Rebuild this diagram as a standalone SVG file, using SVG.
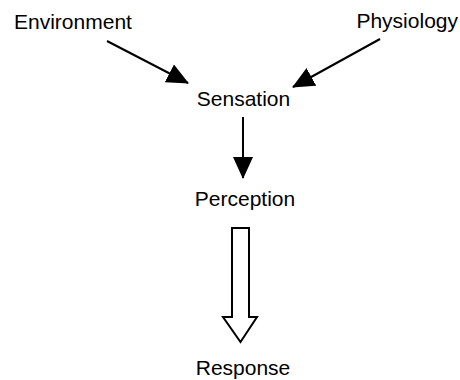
<svg xmlns="http://www.w3.org/2000/svg" width="460" height="380" viewBox="0 0 460 380">
<style>
.t{font-family:"Liberation Sans",Arial,sans-serif;font-size:21px;fill:#000}
.c{stroke:#000;stroke-width:2;fill:none}
.h{fill:#fff;stroke:#000;stroke-width:2;stroke-linejoin:miter}
</style>
<defs>
<marker id="ah" markerUnits="userSpaceOnUse" markerWidth="22" markerHeight="20" refX="21" refY="10" orient="auto" viewBox="0 0 22 20">
<path d="M0,0 L22,10 L0,20 z" fill="#000"/>
</marker>
</defs>
<rect width="460" height="380" fill="#fff"/>
<g id="environment"><text class="t" x="14" y="29">Environment</text></g>
<g id="physiology"><text class="t" x="458" y="28" text-anchor="end">Physiology</text></g>
<g id="sensation"><text class="t" x="243.5" y="106" text-anchor="middle">Sensation</text></g>
<g id="perception"><text class="t" x="245" y="206" text-anchor="middle">Perception</text></g>
<g id="response"><text class="t" x="243" y="375" text-anchor="middle">Response</text></g>
<g id="connectors">
<line class="c" x1="107" y1="41" x2="188" y2="83" marker-end="url(#ah)"/>
<line class="c" x1="380" y1="39" x2="293" y2="87" marker-end="url(#ah)"/>
<line class="c" x1="243" y1="117" x2="243" y2="178" marker-end="url(#ah)"/>
<path class="h" d="M232,228 L249,228 L249,317 L257,317 L240.5,342 L223,317 L232,317 Z"/>
</g>
</svg>
